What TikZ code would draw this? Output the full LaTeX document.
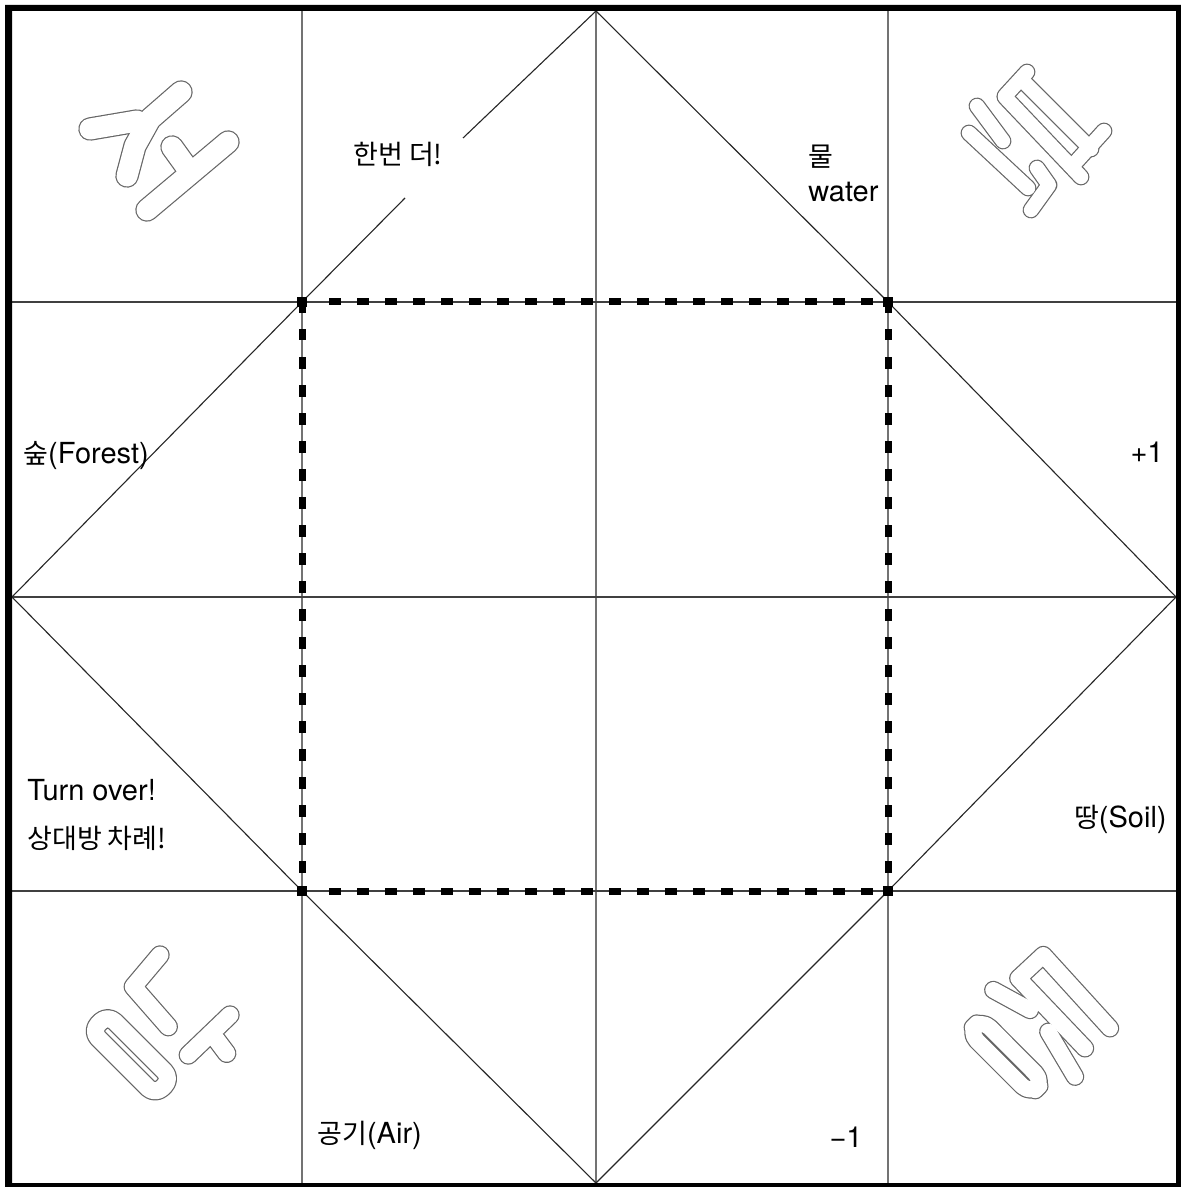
\documentclass[tikz,border=0pt]{standalone}
\usepackage{fontspec}
\usetikzlibrary{calc}
\setmainfont{TeX Gyre Heros}
\newfontfamily\kr{Noto Sans CJK KR}
\newcommand\krs{\kr\fontsize{13.5pt}{16pt}\selectfont}
\tikzset{
  gridline/.style={draw=black!85, line width=0.55pt},
  vline/.style={draw=black!55, line width=0.6pt},
  hline/.style={draw=black!75, line width=0.6pt},
  dashpiece/.style={fill=black},
  txt/.style={inner sep=0pt, font=\fontsize{14.5pt}{17pt}\selectfont},
  gout/.style={draw=black!60, line width=#1+1.2pt, line cap=round, line join=round},
  gin/.style={draw=white, line width=#1, line cap=round, line join=round}
}
\newcommand\glyphTL[2]{%
  \draw[#1=#2] (90,129) -- (137,121);
  \draw[#1=#2] (181,92) -- (150,119) -- (135,146) -- (127,176);
  \draw[#1=#2] (147,210) -- (228,142);
  \draw[#1=#2] (172,147) -- (190,172);
}
\newcommand\glyphTR[2]{%
  \draw[#1=#2] (1027,72) -- (1005,96);
  \draw[#1=#2] (1104,131) -- (1075,163);
  \draw[#1=#2] (1024,82) -- (1091,149);
  \draw[#1=#2] (1005,97) -- (1081,177);
  \draw[#1=#2] (977,106) -- (1003,141);
  \draw[#1=#2] (969,133) -- (1028,188);
  \draw[#1=#2] (1037,168) -- (1049,185) -- (1031,210);
}
\newcommand\glyphBL[2]{%
  \draw[#1=#2, rounded corners=5pt] (91.2,1031.1) -- (107.7,1014.6) -- (171.6,1078.5) -- (155.1,1095) -- cycle;
  \draw[#1=#2] (160,955) -- (133.3,986.7) -- (168.3,1026.7);
  \draw[#1=#2] (230,1015) -- (188.3,1055);
  \draw[#1=#2] (216.7,1040) -- (226.7,1053.3);
}
\newcommand\glyphBR[2]{%
  \draw[#1=#2, rounded corners=6pt] (968.3,1032) -- (981.3,1019) -- (1043.7,1081.7) -- (1030.8,1094.5) -- cycle;
  \draw[#1=#2] (1110,1028.3) -- (1043.3,955) -- (1018.3,978.3) -- (1085,1048.3);
  \draw[#1=#2] (993.3,990) -- (1030,1010);
  \draw[#1=#2] (1048.3,1031.7) -- (1075,1076.7);
}
\begin{document}
\begin{tikzpicture}[x=0.5pt,y=-0.5pt]
\useasboundingbox (0,0) rectangle (1181,1187);
\fill[white] (0,0) rectangle (1181,1187);
% key points
\coordinate (T) at (596,11);
\coordinate (B) at (596,1183);
\coordinate (L) at (12,597);
\coordinate (R) at (1176,597);
\coordinate (c1) at (302,302);
\coordinate (c2) at (888,302);
\coordinate (c3) at (888,891);
\coordinate (c4) at (302,891);
\coordinate (g1) at (405,198);
\coordinate (g2) at (463,138);
% grid
\draw[vline] (302,11) -- (302,1183);
\draw[vline] (596,11) -- (596,1183);
\draw[vline] (888,11) -- (888,1183);
\draw[hline] (12,302) -- (1176,302);
\draw[hline] (12,597) -- (1176,597);
\draw[hline] (12,891) -- (1176,891);
% diamond
\draw[gridline] (L) -- (c1) -- (g1);
\draw[gridline] (g2) -- (T);
\draw[gridline] (T) -- (c2) -- (R) -- (c3) -- (B) -- (c4) -- (L);
% dashed square: explicit dashes
\foreach \k in {1,...,20} {
  \pgfmathsetmacro\a{302+28*\k-1}
  \pgfmathsetmacro\b{302+28*\k+10.5}
  \fill[dashpiece] (\a,298.5) rectangle (\b,305.5);
  \fill[dashpiece] (\a,887.5) rectangle (\b,894.5);
  \fill[dashpiece] (298.5,\a) rectangle (305.5,\b);
  \fill[dashpiece] (884.5,\a) rectangle (891.5,\b);
}
\foreach \p in {c1,c2,c3,c4} \fill[dashpiece] ($(\p)+(-5,-5)$) rectangle ($(\p)+(5,5)$);
\fill[dashpiece] (298.5,302) rectangle (305.5,313);
\fill[dashpiece] (884.5,302) rectangle (891.5,313);
% corner glyphs
\glyphTL{gout}{10.5pt}\glyphTL{gin}{10.5pt}
\glyphTR{gout}{7.2pt}\glyphTR{gin}{7.2pt}
\glyphBL{gout}{8.5pt}\glyphBL{gin}{8.5pt}
\glyphBR{gout}{8pt}\glyphBR{gin}{8pt}
% texts
\node[txt, anchor=base west] (once) at (353,165) {\krs 한번 더!};
\node[txt, anchor=base west] (mul) at (808,167) {\krs 물};
\node[txt, anchor=base west] (water) at (808,202) {water};
\node[txt, anchor=base west] (forest) at (23,463) {{\krs 숲}(Forest)};
\node[txt, anchor=base east] (plus) at (1164,462) {+1};
\node[txt, anchor=base west] (turn) at (27,800) {Turn over!};
\node[txt, anchor=base west] (turnk) at (27,848) {\krs 상대방 차례!};
\node[txt, anchor=base east] (soil) at (1167,827) {{\krs 땅}(Soil)};
\node[txt, anchor=base west] (air) at (317,1143) {{\krs 공기}(Air)};
\node[txt, anchor=base east] (minus) at (863,1147) {−1};
% frame
\fill[black, even odd rule] (5,5) rectangle (1181,1187) (12,11) rectangle (1176,1183);
\end{tikzpicture}
\end{document}
